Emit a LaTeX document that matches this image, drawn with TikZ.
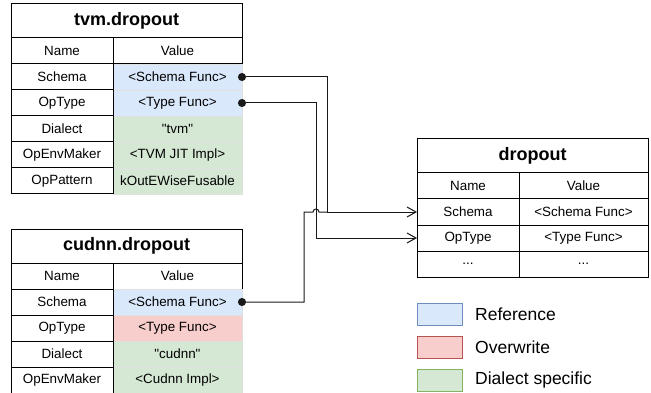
\documentclass[tikz,border=0pt]{standalone}
\usepackage{fontspec}
\setmainfont{Liberation Sans}[Ligatures=TeXOff]
\usetikzlibrary{positioning,arrows.meta}
\definecolor{refFill}{HTML}{DAE8FC}
\definecolor{refLine}{HTML}{6C8EBF}
\definecolor{owFill}{HTML}{F8CECC}
\definecolor{owLine}{HTML}{B85450}
\definecolor{dsFill}{HTML}{D5E8D4}
\definecolor{dsLine}{HTML}{82B366}

\begin{document}
\begin{tikzpicture}[x=1pt,y=-1pt]

			\tikzstyle{title}=[draw=black,line width=1pt,outer sep=0pt,inner sep=0pt,
				minimum width=231pt,minimum height=34pt,
				font=\fontsize{18}{20}\selectfont\bfseries]
			\tikzstyle{namecell}=[draw=black,line width=1pt,outer sep=0pt,inner sep=0pt,
				minimum width=102pt,minimum height=26pt,
				font=\fontsize{13.4}{15}\selectfont]
			\tikzstyle{valuecell}=[namecell,minimum width=129pt]
			\tikzstyle{refcell}=[valuecell,fill=refFill,draw=black!12,line width=0.6pt]
			\tikzstyle{owcell}=[valuecell,fill=owFill,draw=black!12,line width=0.6pt]
			\tikzstyle{dscell}=[valuecell,fill=dsFill,draw=black!12,line width=0.6pt]
			\tikzstyle{legendbox}=[minimum width=45pt,minimum height=22pt,
				inner sep=0pt,outer sep=0pt,line width=0.8pt]
			\tikzstyle{legendtext}=[anchor=west,inner sep=0pt,
				font=\fontsize{17.5}{20}\selectfont]
			\tikzstyle{wire}=[black!90,line width=1pt]

			% tvm.dropout
			\useasboundingbox (0,0) rectangle (651,393);
			\node[title,anchor=north west] (t0) at (11,4) {tvm.dropout};
			\node[valuecell,below left=0pt and 0pt of t0.south east] (t12) {Value};
			\node[namecell,left=0pt of t12] (t11) {Name};
			\node[refcell,below=0pt of t12] (t22) {<Schema Func>};
			\node[namecell,left=0pt of t22] (t21) {Schema};
			\node[refcell,below=0pt of t22] (t32) {<Type Func>};
			\node[namecell,left=0pt of t32] (t31) {OpType};
			\node[dscell,below=0pt of t32] (t42) {"tvm"};
			\node[namecell,left=0pt of t42] (t41) {Dialect};
			\node[dscell,below=0pt of t42] (t52) {<TVM JIT Impl>};
			\node[namecell,left=0pt of t52] (t51) {OpEnvMaker};
			\node[dscell,below=0pt of t52] (t62) {kOutEWiseFusable};
			\node[namecell,left=0pt of t62] (t61) {OpPattern};

			% cudnn.dropout
			\node[title,anchor=north west] (c0) at (11,229) {cudnn.dropout};
			\node[valuecell,below left=0pt and 0pt of c0.south east] (c12) {Value};
			\node[namecell,left=0pt of c12] (c11) {Name};
			\node[refcell,below=0pt of c12] (c22) {<Schema Func>};
			\node[namecell,left=0pt of c22] (c21) {Schema};
			\node[owcell,below=0pt of c22] (c32) {<Type Func>};
			\node[namecell,left=0pt of c32] (c31) {OpType};
			\node[dscell,below=0pt of c32] (c42) {"cudnn"};
			\node[namecell,left=0pt of c42] (c41) {Dialect};
			\node[dscell,below=0pt of c42] (c52) {<Cudnn Impl>};
			\node[namecell,left=0pt of c52] (c51) {OpEnvMaker};

			% dropout
			\node[title,anchor=north west] (d0) at (417,139) {dropout};
			\node[valuecell,below left=0pt and 0pt of d0.south east] (d12) {Value};
			\node[namecell,left=0pt of d12] (d11) {Name};
			\node[valuecell,below=0pt of d12] (d22) {<Schema Func>};
			\node[namecell,left=0pt of d22] (d21) {Schema};
			\node[valuecell,below=0pt of d22] (d32) {<Type Func>};
			\node[namecell,left=0pt of d32] (d31) {OpType};
			\node[valuecell,below=0pt of d32] (d42) {...};
			\node[namecell,left=0pt of d42] (d41) {...};

			% legend
			\node[legendbox,fill=refFill,draw=refLine,anchor=north west] (l1) at (417,303) {};
			\node[legendbox,fill=owFill,draw=owLine,below=11pt of l1] (l2) {};
			\node[legendbox,fill=dsFill,draw=dsLine,below=11pt of l2] (l3) {};
			\node[legendtext,right=13pt of l1] (l1t) {Reference};
			\node[legendtext,right=13pt of l2] (l2t) {Overwrite};
			\node[legendtext,right=13pt of l3] (l3t) {Dialect specific};

			% links
			\draw[wire,{Circle[length=8pt]}-{Straight Barb[length=9pt,width=10pt]}]
				([xshift=-4pt]t22.east) -| ([xshift=-90pt]d21.west) -- (d21.west);
			\draw[wire,{Circle[length=8pt]}-{Straight Barb[length=9pt,width=10pt]}]
				([xshift=-4pt]t32.east) -| ([xshift=-101pt]d31.west) -- (d31.west);
			\draw[wire,{Circle[length=8pt]}-]
				([xshift=-4pt]c22.east) -| ([xshift=-113pt]d21.west)
				-- ([xshift=-104pt]d21.west)
				arc[start angle=180,end angle=0,radius=3pt]
				-- ([xshift=-90pt]d21.west);

\end{tikzpicture}
\end{document}
